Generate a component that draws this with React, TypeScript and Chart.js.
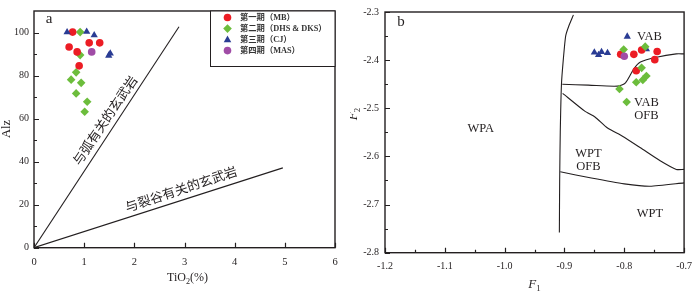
import React, { useEffect, useRef } from "react";
import { Chart, registerables } from "chart.js";

Chart.register(...registerables);

// ---------- Data: panel a (TiO2 vs Alz) ----------
const seriesNames = ["第一期（MB）", "第二期（DHS & DKS）", "第三期（CJ）", "第四期（MAS）"];
const seriesColors = ["#ec1c24", "#6cbd3c", "#2a3c94", "#a04ca6"];

const mbTi = [0.77, 0.70, 0.86, 1.10, 1.31, 0.90];
const mbAlz = [100.2, 93.3, 91.0, 95.2, 95.2, 84.5];
const dhsTi = [0.92, 0.92, 0.84, 0.74, 0.94, 0.84, 1.06, 1.01];
const dhsAlz = [100.2, 89.5, 81.5, 78.1, 76.6, 71.7, 67.8, 63.2];
const cjTi = [0.66, 1.05, 1.20, 1.49, 1.52];
const cjAlz = [100.2, 100.4, 98.8, 89.3, 90.3];
const masTi = [1.15];
const masAlz = [91.0];

const arcLineTi = [0, 2.89];
const arcLineAlz = [0, 102.7];
const riftLineTi = [0, 4.96];
const riftLineAlz = [0, 37.1];

const aXTicks = [0, 1, 2, 3, 4, 5, 6];
const aYTicks = [0, 20, 40, 60, 80, 100];
const aYMinor = [10, 30, 50, 70, 90];

// ---------- Data: panel b (F1 vs F2) ----------
const cjF1 = [-0.850, -0.843, -0.838, -0.828, -0.795, -0.763];
const cjF2 = [-2.384, -2.389, -2.383, -2.385, -2.351, -2.377];
const mbF1 = [-0.806, -0.784, -0.771, -0.745, -0.749, -0.780];
const mbF2 = [-2.388, -2.388, -2.379, -2.382, -2.399, -2.422];
const dhsF1 = [-0.801, -0.765, -0.771, -0.780, -0.769, -0.763, -0.808, -0.796];
const dhsF2 = [-2.378, -2.372, -2.416, -2.446, -2.441, -2.433, -2.460, -2.487];
const masF1 = [-0.800];
const masF2 = [-2.392];

const vertF1 = [-0.885, -0.893, -0.898, -0.902, -0.905, -0.907, -0.908, -0.9085];
const vertF2 = [-2.306, -2.33, -2.35, -2.40, -2.45, -2.55, -2.65, -2.758];
const upperF1 = [-0.9036, -0.86, -0.811, -0.798, -0.784, -0.773, -0.746, -0.713, -0.700];
const upperF2 = [-2.450, -2.452, -2.454, -2.447, -2.418, -2.404, -2.394, -2.387, -2.387];
const middleF1 = [-0.903, -0.866, -0.849, -0.828, -0.803, -0.773, -0.740, -0.713, -0.700];
const middleF2 = [-2.469, -2.506, -2.518, -2.541, -2.558, -2.582, -2.609, -2.627, -2.627];
const lowerF1 = [-0.907, -0.855, -0.800, -0.757, -0.700];
const lowerF2 = [-2.632, -2.645, -2.657, -2.662, -2.655];

const bXTicks = [-1.2, -1.1, -1.0, -0.9, -0.8, -0.7];
const bXMinor = [-1.15, -1.05, -0.95, -0.85, -0.75];
const bYTicks = [-2.8, -2.7, -2.6, -2.5, -2.4, -2.3];
const bYMinor = [-2.75, -2.65, -2.55, -2.45, -2.35];

const fieldNames = ["VAB", "VAB", "OFB", "WPA", "WPT", "OFB", "WPT"];
const fieldF1 = [-0.758, -0.763, -0.763, -1.040, -0.860, -0.860, -0.757];
const fieldF2 = [-2.351, -2.489, -2.516, -2.543, -2.594, -2.621, -2.720];

// ---------- helpers ----------
const INK = "#231f20";
const SERIF = "'Liberation Serif', 'Times New Roman', serif";
const CJK = "'Noto Sans CJK SC', sans-serif";

const pts = (xs: number[], ys: number[]) => xs.map((x, i) => ({ x, y: ys[i] }));
const pointStyles = ["circle", "rectRot", "triangle", "circle"];
const pointRadii = [3.8, 4.3, 4.2, 3.8];

function pointSet(i: number, xs: number[], ys: number[]) {
  return {
    label: seriesNames[i],
    data: pts(xs, ys),
    pointStyle: pointStyles[i],
    pointRadius: pointRadii[i],
    backgroundColor: seriesColors[i],
    borderColor: seriesColors[i],
    borderWidth: 0,
    showLine: false,
  };
}

function lineSet(xs: number[], ys: number[], tension = 0) {
  return {
    label: "",
    data: pts(xs, ys),
    showLine: true,
    pointRadius: 0,
    borderColor: INK,
    borderWidth: 1.1,
    tension,
    fill: false,
  };
}

function drawMarker(ctx: CanvasRenderingContext2D, i: number, x: number, y: number) {
  ctx.fillStyle = seriesColors[i];
  const r = pointRadii[i];
  ctx.beginPath();
  if (pointStyles[i] === "circle") {
    ctx.arc(x, y, r, 0, Math.PI * 2);
  } else if (pointStyles[i] === "rectRot") {
    ctx.moveTo(x, y - r);
    ctx.lineTo(x + r, y);
    ctx.lineTo(x, y + r);
    ctx.lineTo(x - r, y);
  } else {
    const s = r * 0.9;
    ctx.moveTo(x, y - s * 1.1);
    ctx.lineTo(x + s, y + s * 0.7);
    ctx.lineTo(x - s, y + s * 0.7);
  }
  ctx.closePath();
  ctx.fill();
}

function drawFrameTicks(chart: any, xMaj: number[], xMin: number[], yMaj: number[], yMin: number[]) {
  const { ctx, chartArea: a, scales } = chart;
  const xs = scales.x, ys = scales.y;
  ctx.save();
  ctx.strokeStyle = INK;
  ctx.lineWidth = 1.4;
  ctx.strokeRect(a.left, a.top, a.right - a.left, a.bottom - a.top);
  ctx.lineWidth = 1.2;
  ctx.beginPath();
  const vt = (v: number, len: number) => {
    const p = Math.round(xs.getPixelForValue(v)) + 0.5;
    ctx.moveTo(p, a.bottom);
    ctx.lineTo(p, a.bottom - len);
  };
  const ht = (v: number, len: number) => {
    const p = Math.round(ys.getPixelForValue(v)) + 0.5;
    ctx.moveTo(a.left, p);
    ctx.lineTo(a.left + len, p);
  };
  xMaj.forEach((v) => vt(v, 5));
  xMin.forEach((v) => vt(v, 3));
  yMaj.forEach((v) => ht(v, 5));
  yMin.forEach((v) => ht(v, 3));
  ctx.stroke();
  ctx.restore();
}

function drawSubText(ctx: CanvasRenderingContext2D, parts: { t: string; sub?: boolean; italic?: boolean }[], cx: number, cy: number, size: number, rot = 0) {
  ctx.save();
  ctx.translate(cx, cy);
  ctx.rotate(rot);
  ctx.fillStyle = INK;
  ctx.textBaseline = "middle";
  ctx.textAlign = "left";
  const fontOf = (p: any) => `${p.italic ? "italic " : ""}${p.sub ? size * 0.68 : size}px ${SERIF}`;
  let total = 0;
  parts.forEach((p) => {
    ctx.font = fontOf(p);
    total += ctx.measureText(p.t).width;
  });
  let x = -total / 2;
  parts.forEach((p) => {
    ctx.font = fontOf(p);
    ctx.fillText(p.t, x, p.sub ? size * 0.32 : 0);
    x += ctx.measureText(p.t).width;
  });
  ctx.restore();
}

function drawRotText(ctx: CanvasRenderingContext2D, text: string, x: number, y: number, deg: number, font: string) {
  ctx.save();
  ctx.translate(x, y);
  ctx.rotate((deg * Math.PI) / 180);
  ctx.font = font;
  ctx.fillStyle = INK;
  ctx.textAlign = "center";
  ctx.textBaseline = "middle";
  ctx.fillText(text, 0, 0);
  ctx.restore();
}

function axisBase(min: number, max: number, ticks: number[], size: number, pad: number, fixed: (s: any) => void, decimals: number) {
  return {
    type: "linear",
    min,
    max,
    afterBuildTicks: (s: any) => {
      s.ticks = ticks.map((v) => ({ value: v }));
    },
    afterFit: fixed,
    grid: { display: false, drawTicks: false },
    border: { display: false },
    ticks: {
      color: INK,
      padding: pad,
      autoSkip: false,
      maxRotation: 0,
      font: { family: SERIF, size },
      callback: (v: number) => (decimals ? Number(v).toFixed(decimals) : String(v)),
    },
  };
}

// ---------- panel a ----------
function makeA(): any {
  const decor = {
    id: "decorA",
    afterDraw(chart: any) {
      const { ctx, chartArea: a, scales } = chart;
      drawFrameTicks(chart, aXTicks, [], aYTicks, aYMinor);
      // panel letter
      ctx.save();
      ctx.fillStyle = INK;
      ctx.font = `15px ${SERIF}`;
      ctx.textBaseline = "middle";
      ctx.textAlign = "center";
      ctx.fillText("a", 49, 19);
      ctx.restore();
      // line labels
      drawRotText(ctx, "与弧有关的玄武岩", scales.x.getPixelForValue(1.41), scales.y.getPixelForValue(59.2), -56, `13px ${CJK}`);
      drawRotText(ctx, "与裂谷有关的玄武岩", scales.x.getPixelForValue(2.93), scales.y.getPixelForValue(27.3), -18.5, `13px ${CJK}`);
      // axis titles
      drawSubText(ctx, [{ t: "TiO" }, { t: "2", sub: true }, { t: "(%)" }], (a.left + a.right) / 2 + 3, 278, 12);
      drawSubText(ctx, [{ t: "Alz" }], 7, 129, 12.5, -Math.PI / 2);
      // legend
      const lx = 210;
      const ly = a.top;
      ctx.save();
      ctx.fillStyle = "#ffffff";
      ctx.fillRect(lx, ly, a.right - lx, 55);
      ctx.strokeStyle = INK;
      ctx.lineWidth = 1;
      ctx.strokeRect(lx + 0.5, ly, a.right - lx - 0.5, 55.5);
      const rows = [17.5, 28.6, 39.6, 50.6];
      seriesNames.forEach((n, i) => {
        drawMarker(ctx, i, 227.5, rows[i]);
        ctx.fillStyle = "#333";
        ctx.font = `bold 8.3px 'Liberation Serif', 'Noto Sans CJK SC'`;
        ctx.textAlign = "left";
        ctx.textBaseline = "middle";
        ctx.fillText(n, 240, rows[i] + 0.5);
      });
      ctx.restore();
    },
  };
  return {
    type: "scatter",
    data: {
      datasets: [
        pointSet(3, masTi, masAlz),
        pointSet(2, cjTi, cjAlz),
        pointSet(0, mbTi, mbAlz),
        pointSet(1, dhsTi, dhsAlz),
        lineSet(arcLineTi, arcLineAlz),
        lineSet(riftLineTi, riftLineAlz),
      ],
    },
    options: {
      animation: false,
      responsive: false,
      devicePixelRatio: 1,
      layout: { padding: { left: 0, right: 15, top: 7, bottom: 0 } },
      plugins: { legend: { display: false }, tooltip: { enabled: false } },
      scales: {
        x: axisBase(0, 6, aXTicks, 10.5, 8, (s: any) => { s.height = 49.3; }, 0),
        y: axisBase(0, 110, aYTicks, 10, 5, (s: any) => { s.width = 34; }, 0),
      },
    },
    plugins: [decor],
  };
}

// ---------- panel b ----------
function makeB(): any {
  const decor = {
    id: "decorB",
    afterDraw(chart: any) {
      const { ctx, chartArea: a, scales } = chart;
      drawFrameTicks(chart, bXTicks, bXMinor, bYTicks, bYMinor);
      ctx.save();
      ctx.fillStyle = INK;
      ctx.font = `15px ${SERIF}`;
      ctx.textBaseline = "middle";
      ctx.textAlign = "center";
      ctx.fillText("b", 51, 22);
      ctx.font = `12.5px ${SERIF}`;
      fieldNames.forEach((n, i) => {
        ctx.fillText(n, scales.x.getPixelForValue(fieldF1[i]), scales.y.getPixelForValue(fieldF2[i]));
      });
      ctx.restore();
      drawSubText(ctx, [{ t: "F", italic: true }, { t: "1", sub: true }], (a.left + a.right) / 2, 285, 13);
      drawSubText(ctx, [{ t: "F", italic: true }, { t: "2", sub: true }], 4, 114, 13, -Math.PI / 2);
    },
  };
  return {
    type: "scatter",
    data: {
      datasets: [
        pointSet(3, masF1, masF2),
        pointSet(1, dhsF1, dhsF2),
        pointSet(0, mbF1, mbF2),
        pointSet(2, cjF1, cjF2),
        lineSet(vertF1, vertF2, 0.2),
        lineSet(upperF1, upperF2, 0.25),
        lineSet(middleF1, middleF2, 0.2),
        lineSet(lowerF1, lowerF2, 0.2),
      ],
    },
    options: {
      animation: false,
      responsive: false,
      devicePixelRatio: 1,
      layout: { padding: { left: 0, right: 8, top: 7.3, bottom: 0 } },
      plugins: { legend: { display: false }, tooltip: { enabled: false } },
      scales: {
        x: axisBase(-1.2, -0.7, bXTicks, 10, 8, (s: any) => { s.height = 44.3; }, 1),
        y: axisBase(-2.8, -2.3, bYTicks, 10, 6, (s: any) => { s.width = 35; }, 1),
      },
    },
    plugins: [decor],
  };
}

function Panel({ make, left }: { make: () => any; left: number }) {
  const ref = useRef<HTMLCanvasElement | null>(null);
  useEffect(() => {
    if (!ref.current) return;
    const chart = new Chart(ref.current, make());
    return () => chart.destroy();
  }, [make]);
  return (
    <canvas
      ref={ref}
      width={350}
      height={297}
      style={{ position: "absolute", left, top: 0, width: 350, height: 297 }}
    />
  );
}

export default function App() {
  return (
    <div style={{ position: "absolute", left: 0, top: 0, width: 700, height: 297, background: "#fff" }}>
      <Panel make={makeA} left={0} />
      <Panel make={makeB} left={350} />
    </div>
  );
}
